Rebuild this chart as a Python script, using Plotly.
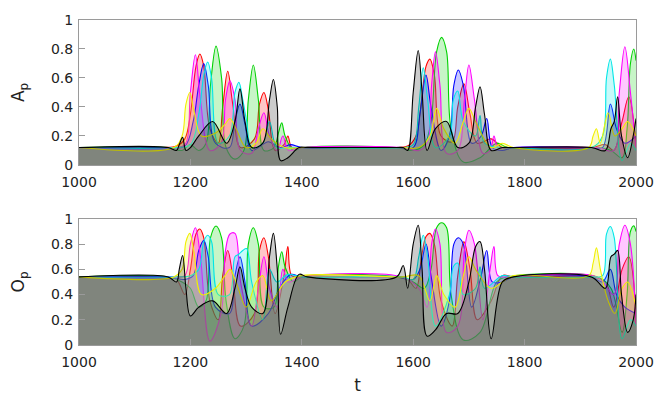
import plotly.graph_objects as go
from plotly.subplots import make_subplots

# knot times and values for each series (A_p top panel, O_p bottom panel)
red_t = [1000, 1150, 1175, 1190, 1200, 1210, 1217, 1224, 1235, 1250, 1258, 1267, 1276, 1290, 1315, 1324, 1332, 1340, 1352, 1368,
         1375, 1382, 1400, 1560, 1590, 1605, 1615, 1623, 1630, 1638, 1650, 1670, 1680, 1691, 1702, 1715, 1740, 1760, 1780, 1920,
         1945, 1960, 1975, 1987, 2000]
red_a = [0.12, 0.12, 0.13, 0.18, 0.35, 0.68, 0.765, 0.68, 0.25, 0.15, 0.40, 0.646, 0.42, 0.12, 0.18, 0.42, 0.50, 0.38, 0.10, 0.14,
         0.20, 0.12, 0.12, 0.12, 0.13, 0.20, 0.45, 0.68, 0.73, 0.62, 0.20, 0.16, 0.40, 0.56, 0.35, 0.15, 0.18, 0.12, 0.12, 0.12,
         0.14, 0.10, 0.30, 0.47, 0.15]
red_o = [0.54, 0.54, 0.52, 0.40, 0.60, 0.88, 0.92, 0.85, 0.35, 0.20, 0.55, 0.75, 0.55, 0.15, 0.25, 0.75, 0.85, 0.70, 0.25, 0.55,
         0.78, 0.55, 0.54, 0.54, 0.52, 0.45, 0.70, 0.86, 0.885, 0.80, 0.35, 0.15, 0.55, 0.82, 0.60, 0.20, 0.35, 0.55, 0.54, 0.54,
         0.50, 0.30, 0.60, 0.70, 0.25]

green_t = [1000, 1160, 1185, 1200, 1215, 1228, 1236, 1246, 1256, 1264, 1280, 1296, 1304, 1313, 1322, 1332, 1350, 1358, 1364, 1370,
           1385, 1400, 1570, 1600, 1620, 1632, 1642, 1651, 1660, 1668, 1690, 1720, 1750, 1770, 1930, 1955, 1975, 1984, 1990, 1996,
           2000]
green_a = [0.12, 0.12, 0.10, 0.14, 0.10, 0.15, 0.55, 0.82, 0.60, 0.12, 0.04, 0.10, 0.45, 0.69, 0.45, 0.10, 0.12, 0.22, 0.29, 0.20,
           0.10, 0.12, 0.12, 0.10, 0.14, 0.30, 0.78, 0.88, 0.78, 0.25, 0.02, 0.05, 0.15, 0.12, 0.12, 0.10, 0.05, 0.25, 0.70, 0.80,
           0.72]
green_o = [0.54, 0.54, 0.50, 0.45, 0.30, 0.35, 0.85, 0.944, 0.85, 0.35, 0.05, 0.15, 0.80, 0.93, 0.80, 0.30, 0.30, 0.62, 0.74, 0.62,
           0.50, 0.54, 0.54, 0.50, 0.45, 0.60, 0.93, 0.97, 0.93, 0.40, 0.04, 0.10, 0.50, 0.54, 0.54, 0.45, 0.10, 0.40, 0.90, 0.945,
           0.90]

blue_t = [1000, 1160, 1190, 1205, 1215, 1224, 1232, 1245, 1270, 1280, 1289, 1298, 1310, 1340, 1360, 1380, 1400, 1570, 1600, 1612,
          1623, 1632, 1650, 1665, 1673, 1681, 1690, 1705, 1722, 1732, 1742, 1760, 1780, 1920, 1940, 1954, 1965, 1980, 2000]
blue_a = [0.12, 0.12, 0.13, 0.30, 0.55, 0.70, 0.55, 0.15, 0.12, 0.30, 0.42, 0.28, 0.10, 0.16, 0.12, 0.14, 0.12, 0.12, 0.12, 0.35,
          0.62, 0.40, 0.10, 0.20, 0.55, 0.655, 0.55, 0.15, 0.20, 0.32, 0.12, 0.10, 0.12, 0.12, 0.12, 0.42, 0.25, 0.15, 0.20]
blue_o = [0.54, 0.54, 0.52, 0.55, 0.75, 0.83, 0.70, 0.30, 0.25, 0.55, 0.70, 0.50, 0.15, 0.25, 0.45, 0.56, 0.54, 0.54, 0.52, 0.60,
          0.80, 0.55, 0.15, 0.35, 0.80, 0.85, 0.80, 0.30, 0.55, 0.75, 0.50, 0.50, 0.54, 0.54, 0.50, 0.60, 0.40, 0.30, 0.25]

magenta_t = [1000, 1170, 1190, 1200, 1209, 1218, 1235, 1255, 1263, 1271, 1280, 1290, 1310, 1322, 1332, 1342, 1356, 1366, 1376, 1400,
             1580, 1610, 1625, 1633, 1640, 1648, 1660, 1680, 1692, 1700, 1710, 1725, 1738, 1745, 1752, 1770, 1930, 1960, 1970, 1980,
             1990, 2000]
magenta_a = [0.12, 0.12, 0.14, 0.50, 0.76, 0.45, 0.10, 0.15, 0.45, 0.58, 0.45, 0.10, 0.08, 0.25, 0.36, 0.20, 0.10, 0.20, 0.10, 0.12,
             0.12, 0.10, 0.15, 0.55, 0.78, 0.55, 0.08, 0.10, 0.45, 0.69, 0.45, 0.08, 0.10, 0.20, 0.12, 0.12, 0.12, 0.10, 0.50, 0.815,
             0.50, 0.12]
magenta_o = [0.54, 0.54, 0.55, 0.80, 0.93, 0.70, 0.03, 0.25, 0.75, 0.88, 0.885, 0.50, 0.15, 0.45, 0.70, 0.45, 0.30, 0.60, 0.50, 0.54,
             0.54, 0.45, 0.30, 0.80, 0.92, 0.80, 0.10, 0.15, 0.75, 0.91, 0.80, 0.20, 0.60, 0.78, 0.55, 0.54, 0.54, 0.40, 0.80, 0.95,
             0.80, 0.15]

cyan_t = [1000, 1170, 1200, 1215, 1224, 1231, 1238, 1250, 1270, 1280, 1287, 1294, 1301, 1310, 1330, 1342, 1355, 1375, 1400, 1580,
          1600, 1610, 1618, 1626, 1640, 1665, 1672, 1680, 1690, 1712, 1720, 1728, 1760, 1780, 1920, 1940, 1947, 1954, 1961, 1975,
          1990, 2000]
cyan_a = [0.12, 0.12, 0.14, 0.35, 0.62, 0.71, 0.60, 0.15, 0.20, 0.50, 0.57, 0.45, 0.30, 0.12, 0.15, 0.30, 0.12, 0.12, 0.12, 0.12,
          0.14, 0.40, 0.67, 0.45, 0.12, 0.20, 0.45, 0.51, 0.30, 0.20, 0.34, 0.15, 0.12, 0.12, 0.12, 0.20, 0.60, 0.73, 0.55, 0.03,
          0.15, 0.10]
cyan_o = [0.54, 0.54, 0.55, 0.60, 0.82, 0.87, 0.82, 0.40, 0.40, 0.70, 0.72, 0.75, 0.765, 0.50, 0.20, 0.60, 0.50, 0.56, 0.54, 0.54,
          0.52, 0.70, 0.87, 0.70, 0.15, 0.40, 0.62, 0.65, 0.40, 0.45, 0.62, 0.45, 0.55, 0.54, 0.54, 0.55, 0.88, 0.94, 0.85, 0.05,
          0.20, 0.15]

yellow_t = [1000, 1170, 1185, 1192, 1199, 1206, 1220, 1245, 1262, 1271, 1282, 1300, 1318, 1330, 1345, 1370, 1400, 1580, 1610, 1630,
            1642, 1655, 1675, 1690, 1700, 1712, 1740, 1760, 1780, 1915, 1923, 1929, 1936, 1950, 1962, 1975, 1985, 2000]
yellow_a = [0.12, 0.12, 0.20, 0.42, 0.50, 0.38, 0.20, 0.22, 0.28, 0.32, 0.25, 0.12, 0.15, 0.25, 0.18, 0.12, 0.12, 0.12, 0.12, 0.20,
            0.39, 0.25, 0.15, 0.30, 0.39, 0.30, 0.12, 0.15, 0.12, 0.12, 0.20, 0.25, 0.15, 0.36, 0.20, 0.25, 0.30, 0.20]
yellow_o = [0.54, 0.54, 0.60, 0.82, 0.885, 0.75, 0.40, 0.45, 0.55, 0.60, 0.50, 0.30, 0.50, 0.55, 0.35, 0.50, 0.55, 0.54, 0.55, 0.35,
            0.55, 0.40, 0.30, 0.55, 0.70, 0.60, 0.45, 0.50, 0.55, 0.55, 0.65, 0.77, 0.60, 0.35, 0.25, 0.45, 0.50, 0.30]

black_t = [1000, 1160, 1175, 1180, 1186, 1192, 1200, 1215, 1240, 1265, 1280, 1289, 1298, 1310, 1330, 1342, 1349, 1356, 1362, 1375,
           1395, 1410, 1570, 1582, 1590, 1600, 1609, 1616, 1625, 1640, 1660, 1680, 1700, 1712, 1720, 1728, 1740, 1760, 1780, 1920,
           1945, 1955, 1961, 1967, 1974, 1985, 1995, 2000]
black_a = [0.12, 0.12, 0.10, 0.14, 0.19, 0.10, 0.12, 0.20, 0.30, 0.15, 0.30, 0.525, 0.30, 0.12, 0.15, 0.45, 0.59, 0.40, 0.03, 0.05,
           0.12, 0.12, 0.12, 0.12, 0.10, 0.50, 0.79, 0.50, 0.10, 0.25, 0.30, 0.12, 0.15, 0.40, 0.54, 0.35, 0.10, 0.12, 0.12, 0.12,
           0.10, 0.25, 0.30, 0.47, 0.20, 0.05, 0.20, 0.32]
black_o = [0.54, 0.54, 0.50, 0.60, 0.71, 0.45, 0.23, 0.30, 0.35, 0.25, 0.45, 0.62, 0.45, 0.30, 0.25, 0.70, 0.885, 0.60, 0.085, 0.30,
           0.56, 0.54, 0.54, 0.63, 0.45, 0.80, 0.95, 0.60, 0.07, 0.12, 0.25, 0.25, 0.50, 0.78, 0.82, 0.60, 0.05, 0.50, 0.54, 0.54,
           0.45, 0.70, 0.72, 0.75, 0.40, 0.10, 0.20, 0.40]

# (t, A_p, O_p, rgb, fill alpha)
series = [
    (red_t, red_a, red_o, (255, 0, 0), 0.22),
    (green_t, green_a, green_o, (0, 210, 0), 0.22),
    (blue_t, blue_a, blue_o, (0, 0, 255), 0.22),
    (magenta_t, magenta_a, magenta_o, (255, 0, 255), 0.22),
    (cyan_t, cyan_a, cyan_o, (0, 230, 230), 0.22),
    (yellow_t, yellow_a, yellow_o, (240, 240, 0), 0.22),
    (black_t, black_a, black_o, (0, 0, 0), 0.20),
]

fig = make_subplots(rows=2, cols=1)

for t, a, o, c, alpha in series:
    for row, vals in ((1, a), (2, o)):
        fig.add_trace(go.Scatter(
            x=t, y=vals, mode='lines',
            line=dict(color='rgb(%d,%d,%d)' % c, width=1.1, shape='spline', smoothing=1.0),
            fill='tozeroy', fillcolor='rgba(%d,%d,%d,%.2f)' % (c + (alpha,)),
            showlegend=False, hoverinfo='skip',
        ), row=row, col=1)

axis_style = dict(
    showline=True, linecolor='#9a9a9a', linewidth=1, mirror=True,
    ticks='inside', ticklen=6, tickcolor='#9a9a9a', showgrid=False, zeroline=False,
    automargin=False,
    tickfont=dict(family='DejaVu Sans', size=14, color='#222'),
)

fig.update_xaxes(range=[1000, 2000], tickvals=[1000, 1200, 1400, 1600, 1800, 2000],
                 ticklabelstandoff=4, **axis_style)
fig.update_yaxes(range=[0, 1], tickvals=[0, 0.2, 0.4, 0.6, 0.8, 1],
                 ticktext=['0', '0.2', '0.4', '0.6', '0.8', '1'], ticklabelstandoff=2, **axis_style)

# the page body adds an 8px offset, so the figure is sized 8px smaller
fig.update_layout(
    width=656, height=391,
    margin=dict(l=71, r=28, t=12, b=54),
    plot_bgcolor='white', paper_bgcolor='white',
    font=dict(family='DejaVu Sans', size=14, color='#222'),
    yaxis=dict(domain=[0.554, 1.0], title=dict(text='A<sub>p</sub>', standoff=24)),
    yaxis2=dict(domain=[0.0, 0.388], title=dict(text='O<sub>p</sub>', standoff=24)),
    xaxis2=dict(title=dict(text='t', standoff=10)),
)

fig.write_html("out.html")
